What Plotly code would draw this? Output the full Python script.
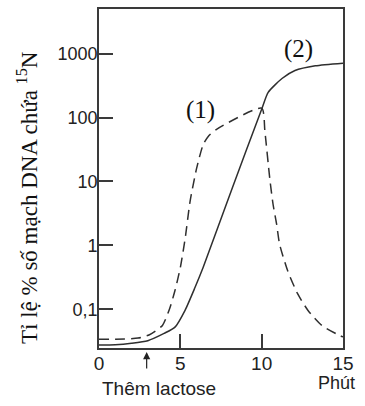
import plotly.graph_objects as go

# Curve (2): solid line
x_solid = [0, 1, 2, 3, 4, 4.67, 5.29, 5.9, 6.4, 8.2, 10, 10.4, 11.25, 12.05, 13.3, 15]
y_solid = [0.0277, 0.028, 0.0295, 0.0323, 0.042, 0.0526, 0.0965, 0.219, 0.45, 8, 135, 248, 408, 544, 645, 709]

# Curve (1): dashed line
x_dash = [0, 1, 2.4, 3.1, 3.9, 4.35, 4.67, 5.0, 5.3, 5.6, 6.0, 6.4, 6.75, 7.25, 10,
          10.2, 10.5, 10.7, 10.92, 11.1, 11.6, 12.2, 12.85, 13.7, 14.7, 15]
y_dash = [0.034, 0.034, 0.0355, 0.040, 0.056, 0.104, 0.197, 0.45, 1.3, 4.9, 16, 37.5, 52, 66, 140,
          60, 11, 4.4, 2.15, 1.05, 0.40, 0.177, 0.096, 0.056, 0.040, 0.037]

x_ticks = [0, 5, 10, 15]
x_ticktext = ["0", "5", "10", "15"]
y_ticks = [0.1, 1, 10, 100, 1000]
y_ticktext = ["0,1", "1", "10", "100", "1000"]

line_col = "#2f2f2f"
axis_col = "#3a3a3a"
sans = "Liberation Sans, Arial, sans-serif"
serif = "Liberation Serif, Times New Roman, serif"

fig = go.Figure()
fig.add_trace(go.Scatter(x=x_dash, y=y_dash, mode="lines",
                         line=dict(color=line_col, width=1.5, dash="10px,6px", shape="spline", smoothing=0.6),
                         hoverinfo="skip"))
fig.add_trace(go.Scatter(x=x_solid, y=y_solid, mode="lines",
                         line=dict(color=line_col, width=1.5, shape="spline", smoothing=0.6),
                         hoverinfo="skip"))

fig.update_layout(
    width=365, height=406,
    margin=dict(l=99, r=22, t=7, b=58),
    paper_bgcolor="white", plot_bgcolor="white",
    showlegend=False,
    xaxis=dict(range=[0, 15], tickvals=x_ticks, ticktext=x_ticktext,
               ticks="inside", ticklen=14, tickwidth=1.8, tickcolor=axis_col,
               showline=True, linecolor=axis_col, linewidth=1.8, mirror=True,
               showgrid=False, zeroline=False, ticklabelstandoff=-3,
               tickfont=dict(family=sans, size=19, color="#222")),
    yaxis=dict(type="log", range=[-1.605, 3.698], tickvals=y_ticks, ticktext=y_ticktext,
               ticks="inside", ticklen=14, tickwidth=1.8, tickcolor=axis_col,
               showline=True, linecolor=axis_col, linewidth=1.8, mirror=True,
               showgrid=False, zeroline=False, ticklabelstandoff=-4,
               tickfont=dict(family=sans, size=18, color="#222")),
)

fig.add_annotation(text="Tỉ lệ % số mạch DNA chứa <sup>15</sup>N", textangle=-90,
                   xref="paper", yref="paper", x=-0.29, y=0.443, showarrow=False,
                   xanchor="center", yanchor="middle",
                   font=dict(family=serif, size=23, color="#111"))
fig.add_annotation(text="(1)", xref="x", yref="y", x=6.25, y=2.12, showarrow=False,
                   xanchor="center", yanchor="middle",
                   font=dict(family=serif, size=25, color="#111"))
fig.add_annotation(text="(2)", xref="x", yref="y", x=12.26, y=3.078, showarrow=False,
                   xanchor="center", yanchor="middle",
                   font=dict(family=serif, size=25, color="#111"))
fig.add_annotation(text="Thêm lactose", xref="paper", yref="paper", x=0.244, y=-0.12,
                   xanchor="center", yanchor="middle",
                   showarrow=False, font=dict(family=sans, size=19, color="#222"))
fig.add_annotation(text="Phút", xref="x", yref="paper", x=14.63, y=-0.104,
                   xanchor="center", yanchor="middle",
                   showarrow=False, font=dict(family=sans, size=18, color="#222"))
fig.add_annotation(text="", xref="x", yref="paper", x=2.93, y=-0.0117,
                   ax=0, ay=18, showarrow=True, arrowhead=2, arrowsize=1.2,
                   arrowwidth=1.2, arrowcolor="#222")

fig.write_html("out.html", config={"displayModeBar": False},
               post_script="document.body.style.margin='0';")
